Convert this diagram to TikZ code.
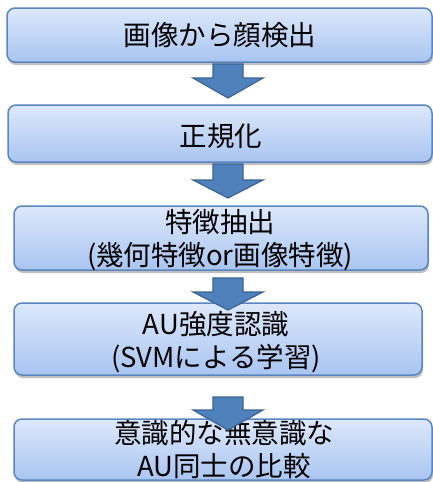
\documentclass[tikz,border=0pt]{standalone}
\usepackage{fontspec}
\newfontfamily\jp{Noto Sans CJK JP}
\usetikzlibrary{shadows}
\definecolor{boxtop}{HTML}{DDE8FB}
\definecolor{boxbot}{HTML}{A9C5F1}
\definecolor{boxline}{HTML}{5A86C0}
\definecolor{arrfill}{HTML}{4F81BD}
\definecolor{arrline}{HTML}{3B6493}
\tikzset{
  stepbox/.style={draw=boxline, line width=1.5pt, rounded corners=8pt,
    top color=boxtop, bottom color=boxbot,
    drop shadow={shadow xshift=1pt, shadow yshift=-3pt, opacity=0.25, fill=black}},
  lbl/.style={font=\jp\fontsize{27.5}{33}\selectfont, align=center, inner sep=0pt},
  bigarrow/.style={fill=arrfill, draw=arrline, line width=1.2pt, line join=miter}
}
\newcommand\downarrowshape[4]{% x, top, base, tip
  \draw[bigarrow] (#1-15,#2) -- (#1+15,#2) -- (#1+15,#3) -- (#1+35,#3) -- (#1,#4) -- (#1-35,#3) -- (#1-15,#3) -- cycle;}
\begin{document}
\begin{tikzpicture}[x=1pt,y=-1pt]
\useasboundingbox (0,0) rectangle (433,482);
\fill[white] (0,0) rectangle (433,482);
% boxes
\path[stepbox] (7,8) rectangle (432,62);
\node[lbl] (t1) at (220,35) {画像から顔検出};
\path[stepbox] (8,105) rectangle (432,162);
\node[lbl] (t2) at (221,136) {正規化};
\path[stepbox] (14,206) rectangle (428,270);
\node[lbl] (t3) at (220,240) {特徴抽出\\(幾何特徴or画像特徴)};
\path[stepbox] (14,303) rectangle (422,375);
\node[lbl] (t4) at (216,342) {AU強度認識\\(SVMによる学習)};
\path[stepbox] (14,419) rectangle (432,480);
\node[lbl] (t5) at (224,450) {意識的な無意識な\\AU同士の比較};
% arrows
\downarrowshape{228}{64}{78}{98}
\downarrowshape{228}{164}{180}{198}
\downarrowshape{228}{278}{292}{310}
\downarrowshape{228}{397}{410}{430}
\end{tikzpicture}
\end{document}
